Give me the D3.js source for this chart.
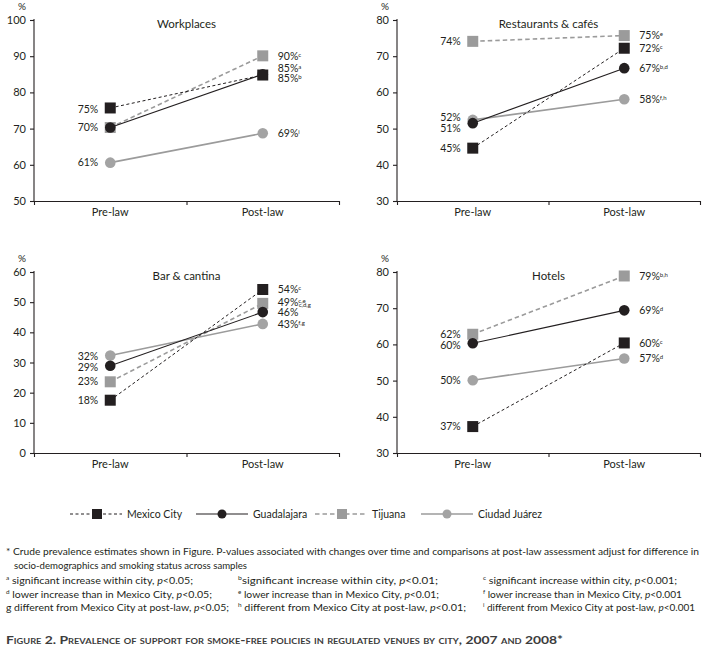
<!DOCTYPE html>
<html>
<head>
<meta charset="utf-8">
<script src="https://cdn.jsdelivr.net/npm/d3@7"></script>
<style>
  body { margin: 0; background: #fff; }
  svg { font-family: Lato, "Open Sans", sans-serif; }
</style>
</head>
<body>
<svg id="chart" width="709" height="651"></svg>
<script>
// data
const cities = ["Mexico City", "Guadalajara", "Tijuana", "Ciudad Juárez"];
const periods = ["Pre-law", "Post-law"];
const venues = ["Workplaces", "Restaurants & cafés", "Bar & cantina", "Hotels"];
const yDomains = [[50, 100], [30, 80], [0, 60], [30, 80]];

// one row per venue, values in city order
const preLaw = [
  [75.7, 70.3, 70.3, 60.6],
  [44.6, 51.5, 74.1, 52.4],
  [17.5, 28.9, 23.6, 32.3],
  [37.3, 60.3, 62.8, 50.1]
];
const postLaw = [
  [84.8, 85.0, 90.1, 68.7],
  [72.2, 66.7, 75.7, 58.1],
  [54.2, 46.7, 49.6, 42.8],
  [60.4, 69.4, 78.9, 56.1]
];

// labels: [text, superscript] ; null = no label
const preLabels = [
  [["75%", ""], ["70%", ""], null, ["61%", ""]],
  [["45%", ""], ["51%", ""], ["74%", ""], ["52%", ""]],
  [["18%", ""], ["29%", ""], ["23%", ""], ["32%", ""]],
  [["37%", ""], ["60%", ""], ["62%", ""], ["50%", ""]]
];
const postLabels = [
  [["85%", "b"], ["85%", "a"], ["90%", "c"], ["69%", "i"]],
  [["72%", "c"], ["67%", "b,d"], ["75%", "e"], ["58%", "f,h"]],
  [["54%", "c"], ["46%", ""], ["49%", "c,e"], ["43%", "f,g"]],
  [["60%", "c"], ["69%", "d"], ["79%", "b,h"], ["57%", "d"]]
];
// small vertical shifts (px) so stacked labels do not collide
const preNudge = [[1, 0, 0, 0], [0, 5, 0, -3], [0, 2, 0, 1], [0, 2, 0, 0]];
const postNudge = [[3, -6, 0, 0], [0, 0, 0, 0], [0, 0, -1, 0], [0, 0, 0, 0]];

const footnotes = [
  "* Crude prevalence estimates shown in Figure. P-values associated with changes over time and comparisons at post-law assessment adjust for difference in",
  "socio-demographics and smoking status across samples"
];
const sigNotes = [
  [["a", " significant increase within city, ", "p", "<0.05;"], ["b", "significant increase within city, ", "p", "<0.01;"], ["c", " significant increase within city, ", "p", "<0.001;"]],
  [["d", " lower increase than in Mexico City, ", "p", "<0.05;"], ["e", " lower increase than in Mexico City, ", "p", "<0.01;"], ["f", " lower increase than in Mexico City, ", "p", "<0.001"]],
  [["", "g different from Mexico City at post-law, ", "p", "<0.05;"], ["h", " different from Mexico City at post-law, ", "p", "<0.01;"], ["i", " different from Mexico City at post-law, ", "p", "<0.001"]]
];
const caption = "Figure 2. Prevalence of support for smoke-free policies in regulated venues by city, 2007 and 2008*";

const ink = "#231f20";
const grey = "#9b9b9b";
const cityStyle = [
  { shape: "square", fill: ink, stroke: ink, width: 1, dash: "3,2.5" },
  { shape: "circle", fill: ink, stroke: ink, width: 1.1, dash: null },
  { shape: "square", fill: grey, stroke: grey, width: 1.6, dash: "4.5,3" },
  { shape: "circle", fill: "#a3a3a3", stroke: grey, width: 1.6, dash: null }
];

const svg = d3.select("#chart");

const panels = [
  { x0: 34, x1: 339, y0: 20, y1: 201 },
  { x0: 397, x1: 700, y0: 20, y1: 201 },
  { x0: 34, x1: 339, y0: 272, y1: 453 },
  { x0: 397, x1: 700, y0: 272, y1: 453 }
];

function marker(g, shape, cx, cy, fill) {
  if (shape == "square") {
    g.append("rect").attr("x", cx - 5.5).attr("y", cy - 5.5)
      .attr("width", 11).attr("height", 11).attr("fill", fill);
  } else {
    g.append("circle").attr("cx", cx).attr("cy", cy).attr("r", 5.3).attr("fill", fill);
  }
}

function label(g, x, y, anchor, txt, sup) {
  const t = g.append("text").attr("x", x).attr("y", y).attr("dy", "0.35em")
    .attr("text-anchor", anchor).style("font-size", "10.5px").attr("fill", ink);
  t.append("tspan").text(txt);
  if (sup) {
    t.append("tspan").attr("dy", "-0.5em").style("font-size", "6px").text(sup);
  }
  return t;
}

venues.forEach((venue, vi) => {
  const p = panels[vi];
  const g = svg.append("g");

  const y = d3.scaleLinear().domain(yDomains[vi]).range([p.y1, p.y0]);
  const x = d3.scalePoint().domain(periods).range([p.x0, p.x1]).padding(0.5);
  const xEdge = d3.scaleLinear().domain([0, 2]).range([p.x0, p.x1]);

  const yAxis = g.append("g").attr("transform", `translate(${p.x0},0)`)
    .call(d3.axisLeft(y).tickValues(d3.range(yDomains[vi][0], yDomains[vi][1] + 1, 10)).tickSize(4).tickPadding(4));
  const xAxis = g.append("g").attr("transform", `translate(0,${p.y1})`)
    .call(d3.axisBottom(xEdge).tickValues([0, 1, 2]).tickFormat("").tickSize(4).tickSizeOuter(0));
  [yAxis, xAxis].forEach(a => {
    a.select(".domain").attr("stroke", ink).attr("stroke-width", 1.1);
    a.selectAll(".tick line").attr("stroke", ink).attr("stroke-width", 1.1);
    a.selectAll("text").style("font-size", "11px").attr("fill", ink).style("font-family", "Lato, sans-serif");
  });
  yAxis.select(".domain").attr("d", `M0,${p.y1}V${p.y0 - 1}`);

  g.selectAll(".xlab").data(periods).join("text")
    .attr("x", d => x(d)).attr("y", p.y1 + 15)
    .attr("text-anchor", "middle").style("font-size", "11px").attr("fill", ink)
    .text(d => d);

  g.append("text").attr("x", p.x0 - 12).attr("y", p.y0 - 10)
    .attr("text-anchor", "middle").style("font-size", "10px").attr("fill", ink).text("%");

  g.append("text").attr("x", (p.x0 + p.x1) / 2).attr("y", p.y0 + 8)
    .attr("text-anchor", "middle").style("font-size", "11.5px").attr("fill", ink).text(venue);

  // draw back to front: Ciudad Juárez, Tijuana, Guadalajara, Mexico City
  [3, 2, 1, 0].forEach(ci => {
    const s = cityStyle[ci];
    const pts = [[x(periods[0]), y(preLaw[vi][ci])], [x(periods[1]), y(postLaw[vi][ci])]];
    g.append("path").attr("d", d3.line()(pts)).attr("fill", "none")
      .attr("stroke", s.stroke).attr("stroke-width", s.width)
      .attr("stroke-dasharray", s.dash);
    pts.forEach(pt => marker(g, s.shape, pt[0], pt[1], s.fill));
  });

  cities.forEach((c, ci) => {
    const pl = preLabels[vi][ci];
    if (pl) label(g, x(periods[0]) - 12, y(preLaw[vi][ci]) + preNudge[vi][ci], "end", pl[0], pl[1]);
    const ql = postLabels[vi][ci];
    if (ql) label(g, x(periods[1]) + 15, y(postLaw[vi][ci]) + postNudge[vi][ci], "start", ql[0], ql[1]);
  });

  // extra stacked superscript beside 49% in Bar & cantina
  if (vi == 2) {
    g.append("text").attr("x", x(periods[1]) + 36).attr("y", y(postLaw[vi][2]) + 4)
      .style("font-size", "6px").attr("fill", ink).text("c,d,g");
  }
});

// legend
const legendX = [70, 196, 315, 421];
const legendY = 514;
cities.forEach((c, ci) => {
  const s = cityStyle[ci];
  const g = svg.append("g");
  const x0 = legendX[ci];
  g.append("line").attr("x1", x0).attr("x2", x0 + 52).attr("y1", legendY).attr("y2", legendY)
    .attr("stroke", s.stroke).attr("stroke-width", s.width).attr("stroke-dasharray", s.dash);
  if (s.shape == "square") {
    g.append("rect").attr("x", x0 + 27 - 5).attr("y", legendY - 5).attr("width", 10).attr("height", 10).attr("fill", s.fill);
  } else {
    g.append("circle").attr("cx", x0 + 26).attr("cy", legendY).attr("r", 4.5).attr("fill", s.fill);
  }
  g.append("text").attr("x", x0 + 57).attr("y", legendY).attr("dy", "0.35em")
    .style("font-size", "10.5px").attr("fill", ink).text(c);
});

// footnotes
svg.append("text").attr("x", 6).attr("y", 555).style("font-size", "10px").attr("fill", ink)
  .attr("textLength", 693).attr("lengthAdjust", "spacingAndGlyphs").text(footnotes[0]);
svg.append("text").attr("x", 14).attr("y", 569).style("font-size", "10px").attr("fill", ink)
  .attr("textLength", 233).attr("lengthAdjust", "spacingAndGlyphs").text(footnotes[1]);

const colX = [6, 238, 483];
const rowY = [584, 598, 611];
const noteLen = [[187, 200, 194], [206, 201, 199], [223, 228, 212]];
sigNotes.forEach((row, ri) => {
  row.forEach((n, ci) => {
    const t = svg.append("text").attr("x", colX[ci]).attr("y", rowY[ri])
      .style("font-size", "10px").attr("fill", ink)
      .attr("textLength", noteLen[ri][ci]).attr("lengthAdjust", "spacingAndGlyphs");
    if (n[0]) t.append("tspan").attr("dy", -4).style("font-size", "6px").text(n[0]);
    t.append("tspan").attr("dy", n[0] ? 4 : 0).text(n[1]);
    t.append("tspan").style("font-style", "italic").text(n[2]);
    t.append("tspan").text(n[3]);
  });
});

svg.append("text").attr("x", 6).attr("y", 644)
  .style("font-size", "12px").style("font-variant", "small-caps").style("font-weight", "bold")
  .attr("fill", "#3c3c3c").attr("textLength", 557).attr("lengthAdjust", "spacingAndGlyphs")
  .text(caption);
</script>
</body>
</html>
